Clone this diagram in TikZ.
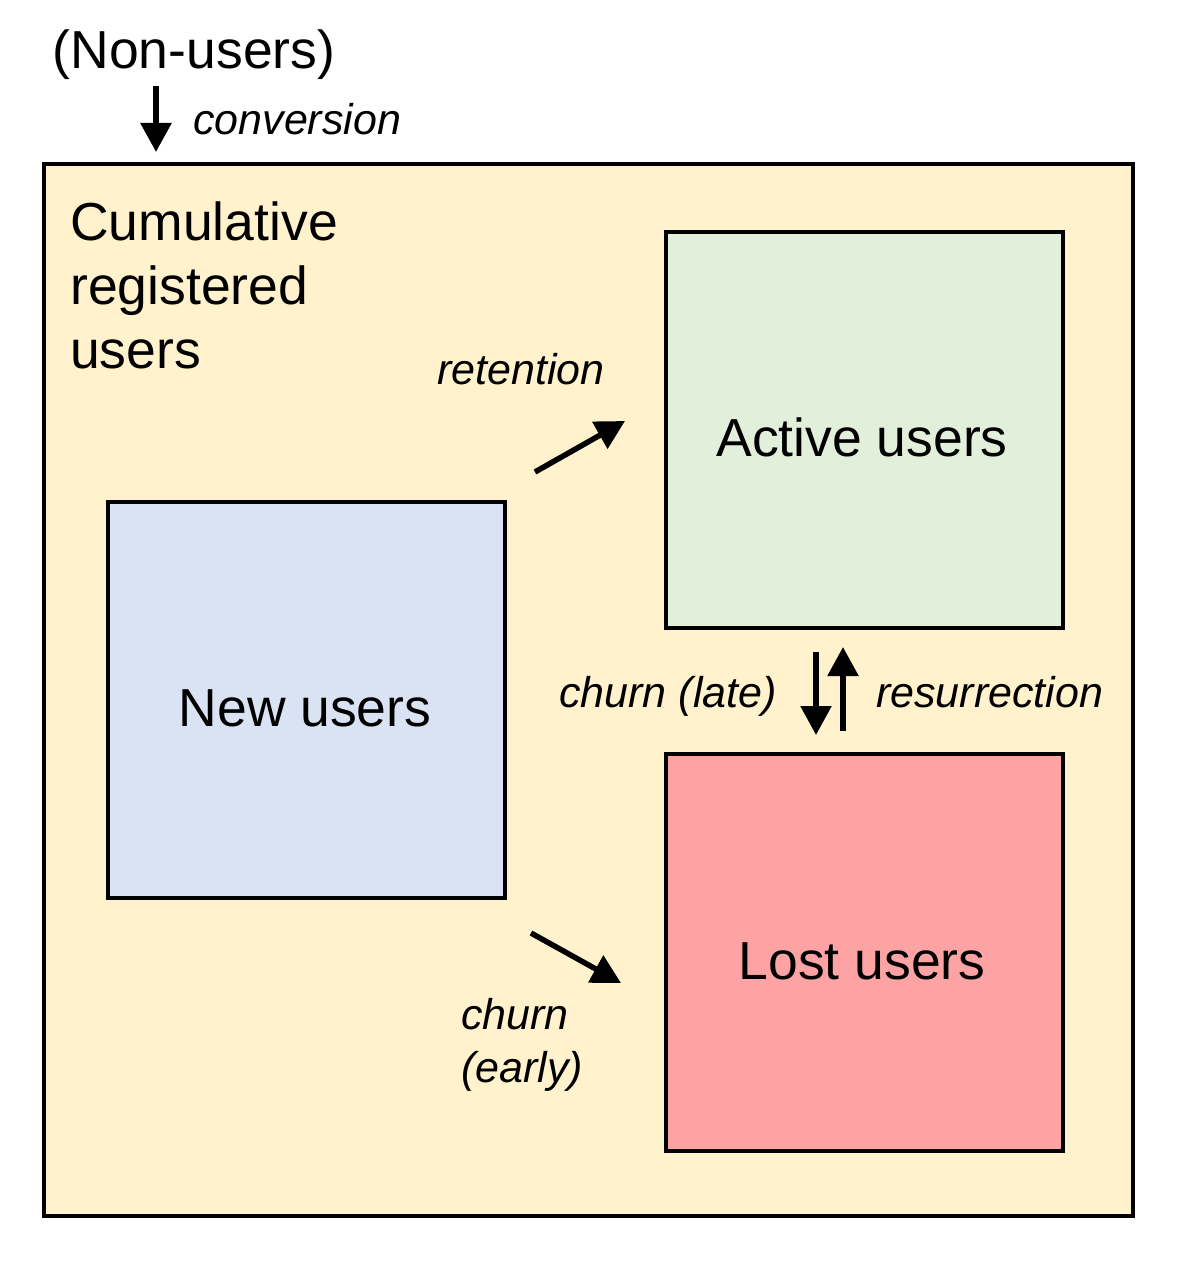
\documentclass[tikz,border=0pt]{standalone}
\usepackage{fontspec}
\setmainfont{Liberation Sans}
\usetikzlibrary{arrows.meta}
\definecolor{outerfill}{HTML}{FFF2CC}
\definecolor{activefill}{HTML}{E2EFDA}
\definecolor{newfill}{HTML}{DAE3F3}
\definecolor{lostfill}{HTML}{FEA3A3}
\tikzset{
  box/.style={draw=black, line width=4pt},
  bigtext/.style={font=\fontsize{53.5}{64}\selectfont, inner sep=0pt},
  flowlabel/.style={font=\fontsize{43}{53}\selectfont\itshape, inner sep=0pt},
  flow/.style={line width=5.5pt, -{Triangle[length=29pt,width=30pt]}},
}
\begin{document}
\begin{tikzpicture}[x=1pt,y=-1pt]
\useasboundingbox (0,0) rectangle (1178,1287);
% boxes
\draw[box, fill=outerfill] (44,164) rectangle (1133,1216);
\node[box, fill=activefill, minimum width=397pt, minimum height=396pt, inner sep=0pt] (active) at (864.5,430) {};
\node[box, fill=newfill, minimum width=397pt, minimum height=396pt, inner sep=0pt] (new) at (306.5,700) {};
\node[box, fill=lostfill, minimum width=397pt, minimum height=397pt, inner sep=0pt] (lost) at (864.5,952.5) {};
% texts
\node[bigtext] (activet) at (862,437) {Active users};
\node[bigtext] (newt) at (305,708) {New users};
\node[bigtext] (lostt) at (862,961) {Lost users};
\node[bigtext, anchor=base] (nonusers) at (194,69) {(Non-users)};
\node[bigtext, anchor=base west, align=left] (cumul) at (70,368) {Cumulative\\registered\\users};
% labels
\node[flowlabel, anchor=base west] (conv) at (193,135) {conversion};
\node[flowlabel] (ret) at (521,369) {retention};
\node[flowlabel, anchor=base] (late) at (668,707) {churn (late)};
\node[flowlabel, anchor=base west] (res) at (876,707) {resurrection};
\node[flowlabel, anchor=base west, align=left, font=\fontsize{43}{53}\selectfont\itshape] (early) at (461,1082) {churn\\(early)};
% arrow endpoints
\coordinate (c1) at (156,86);
\coordinate (c2) at (156,152);
\coordinate (r1) at (535,472);
\coordinate (r2) at (625,421);
\coordinate (e1) at (531,933);
\coordinate (e2) at (621,983);
\coordinate (l1) at (816,652);
\coordinate (l2) at (816,735);
\coordinate (s1) at (843,731);
\coordinate (s2) at (843,647);
\draw[flow] (c1) -- (c2);
\draw[flow] (r1) -- (r2);
\draw[flow] (e1) -- (e2);
\draw[flow] (l1) -- (l2);
\draw[flow] (s1) -- (s2);
\end{tikzpicture}
\end{document}
